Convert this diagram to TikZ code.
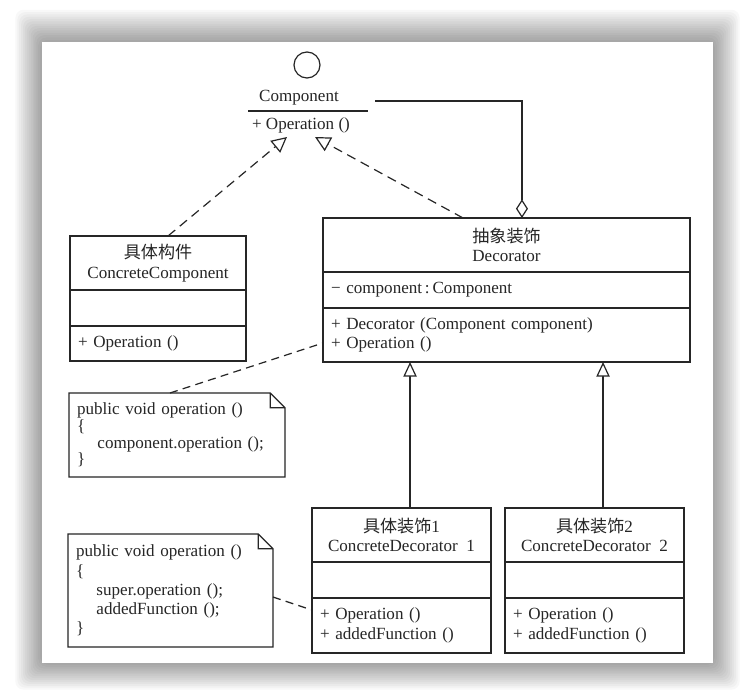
\documentclass[tikz,border=0pt]{standalone}
\usepackage{fontspec}
\setmainfont{Liberation Serif}
\newfontfamily\cjk{Noto Sans CJK SC}
\usetikzlibrary{arrows.meta,positioning}
\definecolor{inkgray}{HTML}{262626}
\newcommand\umlfont{\fontsize{12.8}{14.5}\selectfont}
\tikzset{
  clshead/.style={rectangle,draw=inkgray,line width=0.9pt,anchor=north west,outer sep=0pt,
    minimum height=40.5pt,inner sep=0pt,align=center,text=inkgray,font=\umlfont},
  clspart/.style={rectangle,draw=inkgray,line width=0.9pt,text width=#1,outer sep=0pt,
    inner xsep=6pt,inner ysep=0pt,align=left,text=inkgray,font=\umlfont},
  notebox/.style={rectangle,anchor=north west,text width=#1,outer sep=0pt,
    inner xsep=6pt,inner ysep=0pt,align=left,text=inkgray,font=\umlfont},
  iface/.style={circle,draw=inkgray,line width=0.9pt,minimum size=19.5pt,inner sep=0pt},
  ifname/.style={rectangle,minimum width=90pt,minimum height=19.5pt,inner sep=0pt,
    outer sep=0pt,text=inkgray,font=\umlfont},
  realize/.style={draw=inkgray,line width=0.9pt,dash pattern=on 7pt off 4.5pt,
    -{Triangle[open,length=11.5pt,width=11.5pt,fill=white]}},
  inherit/.style={draw=inkgray,line width=0.9pt,
    -{Triangle[open,length=11pt,width=10pt,fill=white]}},
  aggr/.style={draw=inkgray,line width=0.9pt,
    -{Diamond[open,length=14pt,width=9pt,fill=white]}},
  notelink/.style={draw=inkgray,line width=0.9pt,dash pattern=on 6pt off 4pt},
}

\begin{document}
\begin{tikzpicture}[x=0.75pt,y=-0.75pt]
  \useasboundingbox (0,0) rectangle (749,699);
  \fill[white] (0,0) rectangle (749,699);
  \foreach \s in {1,...,14}
    \fill[black,opacity=0.026,rounded corners=6pt] (42-1.9*\s,42-2.3*\s) rectangle (713+1.9*\s,663+1.9*\s);
  \fill[white] (42,42) rectangle (713,663);

  \node[iface] (iface) at (307,65) {};
  \node[ifname] (comp) at (308,98) {Component\hspace*{13.5pt}};
  \draw[draw=inkgray,line width=1.4pt] (comp.south west) -- (comp.south east);
  \node[ifname,minimum height=18pt] (compops) at (301,125) {+ Operation ()};

  \node[clshead,minimum width=132pt] (cchead) at (70,236) {{\cjk 具体构件}\\ConcreteComponent};
  \node[clspart=120pt,minimum height=27pt,below=0pt of cchead] (ccattr) {};
  \node[clspart=120pt,minimum height=26.25pt,below=0pt of ccattr] (ccops) {+ Operation ()};

  \node[clshead,minimum width=275.25pt] (dechead) at (323,218) {{\cjk 抽象装饰}\\Decorator};
  \node[clspart=263.25pt,minimum height=27pt,below=0pt of dechead] (decattr) {− component\,:\,Component};
  \node[clspart=263.25pt,minimum height=40.5pt,below=0pt of decattr] (decops)
    {+ Decorator (Component component)\\+ Operation ()};

  \node[clshead,minimum width=134.25pt] (cd1head) at (312,508) {{\cjk 具体装饰}1\\ConcreteDecorator\enspace 1};
  \node[clspart=122.25pt,minimum height=27pt,below=0pt of cd1head] (cd1attr) {};
  \node[clspart=122.25pt,minimum height=41.25pt,below=0pt of cd1attr] (cd1ops)
    {+ Operation ()\\+ addedFunction ()};

  \node[clshead,minimum width=134.25pt] (cd2head) at (505,508) {{\cjk 具体装饰}2\\ConcreteDecorator\enspace 2};
  \node[clspart=122.25pt,minimum height=27pt,below=0pt of cd2head] (cd2attr) {};
  \node[clspart=122.25pt,minimum height=41.25pt,below=0pt of cd2attr] (cd2ops)
    {+ Operation ()\\+ addedFunction ()};

  \node[notebox=150pt,minimum height=63pt,font=\fontsize{12.8}{12.5}\selectfont] (note1) at (69,393)
    {public void operation ()\\\{\\\hspace*{1.2em}component.operation ();\\\}};
  \node[notebox=141.75pt,minimum height=84.75pt,font=\fontsize{12.8}{14.4}\selectfont] (note2) at (68,534)
    {public void operation ()\\\{\\\hspace*{1.2em}super.operation ();\\\hspace*{1.2em}addedFunction ();\\\}};
  \foreach \n in {note1,note2}
    \draw[draw=inkgray,line width=0.9pt] (\n.north west) -- ([xshift=-11pt]\n.north east)
      -- ([yshift=-11pt]\n.north east) -- (\n.south east) -- (\n.south west) -- cycle
      ([xshift=-11pt]\n.north east) -- ([xshift=-11pt,yshift=-11pt]\n.north east)
      -- ([yshift=-11pt]\n.north east);

  \draw[realize] ([xshift=7.5pt]cchead.north) -- ([xshift=-10.5pt]compops.south);
  \draw[realize] ([xshift=-32.6pt]dechead.north) -- ([xshift=10.5pt]compops.south);
  \draw[aggr] ([xshift=5.25pt,yshift=-2.25pt]comp.east) -| ([xshift=11.6pt]dechead.north);
  \draw[inherit] ([xshift=6.4pt]cd1head.north) -- ([xshift=6.4pt]cd1head.north |- decops.south);
  \draw[inherit] ([xshift=6.4pt]cd2head.north) -- ([xshift=6.4pt]cd2head.north |- decops.south);
  \draw[notelink] ([xshift=-5.25pt]note1.north) -- ([yshift=-6pt]decops.west);
  \draw[notelink] ([yshift=-4.9pt]note2.east) -- ([yshift=11.6pt]cd1ops.west);
\end{tikzpicture}
\end{document}
